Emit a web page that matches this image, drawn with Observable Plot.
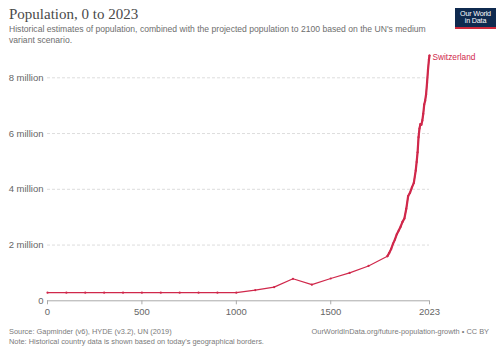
<!DOCTYPE html>
<html><head><meta charset="utf-8">
<script src="https://cdn.jsdelivr.net/npm/d3@7"></script>
<script src="https://cdn.jsdelivr.net/npm/@observablehq/plot@0.6"></script>
<style>
body{margin:0;width:500px;height:353px;position:relative;background:#fff;overflow:hidden;font-family:"Liberation Sans",Arial,sans-serif;}
#title{position:absolute;left:9px;top:6px;font-family:"Liberation Serif",serif;font-size:15px;color:#4a4a4a;}
#sub{position:absolute;left:9px;top:24px;width:430px;font-size:8.6px;line-height:10.5px;color:#6e6e6e;}
#logo{position:absolute;left:455px;top:8px;width:41px;height:21px;background:#0f2a4f;border-bottom:2px solid #ce2a3c;color:#fff;font-size:7.2px;line-height:7.6px;text-align:center;padding-top:1.5px;box-sizing:border-box;letter-spacing:-0.2px;}
#chart{position:absolute;left:0;top:50px;}
.foot{position:absolute;font-size:7.4px;color:#7a7a7a;}
</style></head><body>
<div id="title">Population, 0 to 2023</div>
<div id="sub">Historical estimates of population, combined with the projected population to 2100 based on the UN's medium variant scenario.</div>
<div id="logo">Our World<br>in Data</div>
<div id="chart"></div>
<div class="foot" style="left:9px;top:327px;">Source: Gapminder (v6), HYDE (v3.2), UN (2019)</div>
<div class="foot" style="left:9px;top:337px;">Note: Historical country data is shown based on today's geographical borders.</div>
<div class="foot" style="right:11px;top:327px;">OurWorldInData.org/future-population-growth • CC BY</div>
<script>
const country = "Switzerland";
const years = [0,100,200,300,400,500,600,700,800,900,1000,1100,1200,1300,1400,1500,1600,1700,1800,1810,1820,1830,1840,1850,1860,1870,1880,1890,1900,1910,1920,1930,1940,1950,1955,1960,1965,1970,1975,1980,1985,1990,1995,2000,2005,2010,2015,2020,2023];
const population = [290000,290000,290000,290000,290000,290000,290000,290000,290000,290000,290000,380000,490000,790000,580000,800000,1000000,1250000,1600000,1720000,1860000,2050000,2200000,2390000,2520000,2660000,2830000,2950000,3300000,3760000,3880000,4070000,4230000,4670000,4980000,5330000,5870000,6180000,6340000,6320000,6470000,6710000,7040000,7180000,7410000,7820000,8280000,8650000,8800000];
const xTicks = [0,500,1000,1500,2023];
const yTicks = [0,2000000,4000000,6000000,8000000];

const data = years.map((y,i)=>({year:y, pop:population[i]}));
const modern = data.filter(d=>d.year>=1800);
const last = data[data.length-1];
const col = "#d0284b";

const chart = Plot.plot({
  width:500, height:280,
  marginLeft:47, marginRight:71, marginTop:27.3, marginBottom:29.7,
  style:{fontFamily:"'Liberation Sans', Arial, sans-serif", fontSize:"9.5px", color:"#666", background:"transparent"},
  x:{domain:[0,2023]},
  y:{domain:[0,8000000]},
  marks:[
    Plot.gridY(yTicks.filter(d=>d>0), {stroke:"#ddd", strokeOpacity:1, strokeDasharray:"3,2"}),
    Plot.ruleY([0], {stroke:"#aaa"}),
    Plot.axisX(xTicks, {tickSize:4, stroke:"#aaa", tickPadding:3, fill:"#666", fontSize:9.5, label:null, tickFormat:d=>String(d)}),
    Plot.axisY(yTicks, {tickSize:0, tickPadding:4, fill:"#666", fontSize:9.5, label:null,
      tickFormat:d=> d===0 ? "0" : (d/1e6)+" million"}),
    Plot.line(data, {x:"year", y:"pop", stroke:col, strokeWidth:1.2}),
    Plot.line(modern, {x:"year", y:"pop", stroke:col, strokeWidth:2.2}),
    Plot.dot(data, {x:"year", y:"pop", r:1.1, fill:col}),
    Plot.text([last], {x:"year", y:"pop", text:()=>country, dx:3, dy:2, textAnchor:"start", fill:col, fontSize:8.3})
  ]
});
document.getElementById("chart").appendChild(chart);
</script>
</body></html>
